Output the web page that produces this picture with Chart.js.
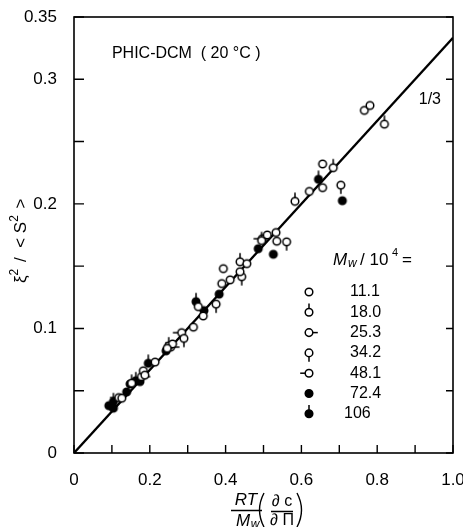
<!DOCTYPE html>
<html>
<head>
<meta charset="utf-8">
<script src="https://cdn.jsdelivr.net/npm/chart.js@4"></script>
<style>
html, body { margin: 0; padding: 0; background: #fff; }
</style>
</head>
<body>
<canvas id="chart" width="463" height="527"></canvas>
<script>
// Series labels (Mw / 10^4) and their points [x, y]
const seriesLabels = ['11.1', '18.0', '25.3', '34.2', '48.1', '72.4', '106'];

const pts111 = [[0.766, 0.275], [0.781, 0.279], [0.656, 0.232], [0.656, 0.213], [0.621, 0.210],
    [0.533, 0.177], [0.535, 0.170], [0.510, 0.175], [0.456, 0.152], [0.394, 0.148],
    [0.438, 0.1455], [0.412, 0.139], [0.390, 0.136], [0.328, 0.1175], [0.341, 0.110],
    [0.315, 0.101], [0.260, 0.0875], [0.246, 0.084], [0.214, 0.073], [0.183, 0.066],
    [0.187, 0.0625], [0.126, 0.044]];
const pts180 = [[0.819, 0.264], [0.684, 0.229], [0.583, 0.202], [0.438, 0.1535], [0.495, 0.1705],
    [0.152, 0.056], [0.250, 0.086]];
const pts253 = [[0.178, 0.0613], [0.255, 0.085]];
const pts342 = [[0.704, 0.215], [0.561, 0.1695], [0.4425, 0.1415], [0.375, 0.1195], [0.290, 0.092]];
const pts481 = [[0.284, 0.0966], [0.497, 0.172], [0.118, 0.0445]];
const pts724 = [[0.708, 0.2025], [0.526, 0.1595], [0.486, 0.164], [0.383, 0.1275], [0.343, 0.1143],
    [0.174, 0.0573], [0.139, 0.049], [0.0995, 0.0377], [0.148, 0.0554], [0.092, 0.038], [0.104, 0.036]];
const pts106 = [[0.645, 0.2197], [0.322, 0.1215], [0.196, 0.072], [0.104, 0.0412], [0.243, 0.082],
    [0.163, 0.058]];
const seriesPoints = [pts111, pts180, pts253, pts342, pts481, pts724, pts106];

// Fitted line, slope 1/3
const fitLine = [[0, 0], [1.0, 1 / 3]];

// Tick labels
const xTickLabels = ['0', '0.2', '0.4', '0.6', '0.8', '1.0'];
const yTickLabels = ['0', '0.1', '0.2', '0.3', '0.35'];

const FONT = '"Liberation Sans", Arial, Helvetica, sans-serif';
const markerKinds = ['open', 'up', 'right', 'down', 'left', 'filled', 'filledUp'];

// Draw one marker (circle with optional stem)
function drawMarker(ctx, kind, cx, cy) {
    const r = 3.8, stem = 5;
    ctx.save();
    ctx.strokeStyle = '#000';
    ctx.lineWidth = 1.5;
    ctx.beginPath();
    if (kind === 'up' || kind === 'filledUp') { ctx.moveTo(cx, cy - r); ctx.lineTo(cx, cy - r - stem); }
    if (kind === 'down') { ctx.moveTo(cx, cy + r); ctx.lineTo(cx, cy + r + stem); }
    if (kind === 'right') { ctx.moveTo(cx + r, cy); ctx.lineTo(cx + r + stem, cy); }
    if (kind === 'left') { ctx.moveTo(cx - r, cy); ctx.lineTo(cx - r - stem, cy); }
    ctx.stroke();
    ctx.beginPath();
    ctx.arc(cx, cy, r, 0, Math.PI * 2);
    ctx.fillStyle = (kind === 'filled' || kind === 'filledUp') ? '#000' : '#fff';
    ctx.fill();
    ctx.stroke();
    ctx.restore();
}

// Marker images for the point style
function markerCanvas(kind) {
    const c = document.createElement('canvas');
    c.width = 24; c.height = 24;
    drawMarker(c.getContext('2d'), kind, 12, 12);
    return c;
}

const datasets = seriesPoints.map((pts, i) => ({
    label: seriesLabels[i],
    data: pts.map(p => ({ x: p[0], y: p[1] })),
    pointStyle: markerCanvas(markerKinds[i]),
    pointRadius: 4,
    showLine: false
}));
datasets.push({
    label: 'fit',
    type: 'line',
    data: fitLine.map(p => ({ x: p[0], y: p[1] })),
    borderColor: '#000',
    borderWidth: 2.3,
    pointRadius: 0,
    fill: false
});

// Frame, inward ticks, titles, annotations and legend
const decorPlugin = {
    id: 'decor',
    afterDatasetsDraw(chart) {
        const ctx = chart.ctx;
        const a = chart.chartArea;
        const xs = chart.scales.x, ys = chart.scales.y;
        ctx.save();
        ctx.strokeStyle = '#000';
        ctx.lineWidth = 1.6;
        ctx.strokeRect(a.left, a.top, a.right - a.left, a.bottom - a.top);

        ctx.lineWidth = 1.4;
        ctx.beginPath();
        ys.ticks.forEach(t => {
            const py = ys.getPixelForValue(t.value);
            ctx.moveTo(a.left, py); ctx.lineTo(a.left + 10, py);
            ctx.moveTo(a.right, py); ctx.lineTo(a.right - 7, py);
        });
        xs.ticks.forEach(t => {
            const px = xs.getPixelForValue(t.value);
            ctx.moveTo(px, a.bottom); ctx.lineTo(px, a.bottom - 8);
        });
        ctx.stroke();

        ctx.fillStyle = '#000';
        ctx.textBaseline = 'middle';
        ctx.textAlign = 'left';
        ctx.font = '16px ' + FONT;
        ctx.fillText('PHIC-DCM  ( 20 \u00B0C )', xs.getPixelForValue(0.1), ys.getPixelForValue(0.321));
        ctx.textAlign = 'center';
        ctx.fillText('1/3', xs.getPixelForValue(0.939), ys.getPixelForValue(0.2834));

        // y title, drawn piece by piece for the superscripts
        ctx.save();
        ctx.translate(21, 283);
        ctx.rotate(-Math.PI / 2);
        ctx.textAlign = 'left';
        const parts = [['\u03BE', 17, 0], ['2', 12, -6], [' /  < S', 17, 0], ['2', 12, -6], [' >', 17, 0]];
        let cx = 0;
        parts.forEach(p => {
            ctx.font = p[1] + 'px ' + FONT;
            ctx.fillText(p[0], cx, p[2]);
            cx += ctx.measureText(p[0]).width + (p[1] === 12 ? 2 : 0);
        });
        ctx.restore();

        // x title: RT/Mw (dc/dPi)
        ctx.textAlign = 'center';
        ctx.font = 'italic 17px ' + FONT;
        ctx.fillText('RT', 246, 500);
        ctx.fillText('M', 243, 521);
        ctx.font = 'italic 12px ' + FONT;
        ctx.fillText('w', 255, 525);
        ctx.lineWidth = 1.4;
        ctx.beginPath();
        ctx.moveTo(231, 510.5); ctx.lineTo(262, 510.5);
        ctx.moveTo(271, 511.5); ctx.lineTo(293, 511.5);
        // parentheses
        ctx.moveTo(264, 493); ctx.quadraticCurveTo(255, 510, 264, 527);
        ctx.moveTo(297, 493); ctx.quadraticCurveTo(306, 510, 297, 527);
        ctx.stroke();
        ctx.font = '16px ' + FONT;
        ctx.fillText('\u2202 c', 282, 502);
        ctx.fillText('\u2202 \u03A0', 282, 521);

        // legend
        ctx.textAlign = 'left';
        ctx.font = 'italic 17px ' + FONT;
        ctx.fillText('M', 333, 260);
        ctx.font = 'italic 12px ' + FONT;
        ctx.fillText('w', 348, 264);
        ctx.font = '17px ' + FONT;
        ctx.fillText('/ 10', 360, 260);
        ctx.font = '11px ' + FONT;
        ctx.fillText('4', 392, 253);
        ctx.font = '17px ' + FONT;
        ctx.fillText('=', 402, 260);

        ctx.font = '16px ' + FONT;
        seriesLabels.forEach((lab, i) => {
            const y = 292 + i * 20.3;
            drawMarker(ctx, markerKinds[i], 309, y);
            ctx.fillStyle = '#000';
            ctx.fillText(lab, lab.indexOf('.') < 0 ? 344 : 350, y);
        });
        ctx.restore();
    }
};

new Chart(document.getElementById('chart'), {
    type: 'scatter',
    data: { datasets: datasets },
    options: {
        responsive: false,
        devicePixelRatio: 1,
        animation: false,
        layout: { padding: { left: 0, right: 10, top: 17, bottom: 0 } },
        plugins: { legend: { display: false }, tooltip: { enabled: false } },
        scales: {
            x: {
                type: 'linear', min: 0, max: 1,
                grid: { display: false }, border: { display: false },
                ticks: {
                    stepSize: 0.1, padding: 9, color: '#000', maxRotation: 0, autoSkip: false,
                    font: { family: FONT, size: 17 },
                    callback: v => {
                        const k = Math.round(v * 10);
                        return k % 2 === 0 ? xTickLabels[k / 2] : '';
                    }
                },
                afterFit: s => { s.height = 74; s.paddingLeft = 0; s.paddingRight = 0; }
            },
            y: {
                type: 'linear', min: 0, max: 0.35,
                grid: { display: false }, border: { display: false },
                ticks: {
                    stepSize: 0.05, padding: 9, color: '#000', autoSkip: false,
                    font: { family: FONT, size: 17 },
                    callback: v => {
                        const k = Math.round(v * 100);
                        const idx = [0, 10, 20, 30, 35].indexOf(k);
                        return idx >= 0 ? yTickLabels[idx] : '';
                    }
                },
                afterFit: s => { s.width = 74; s.paddingTop = 0; s.paddingBottom = 0; }
            }
        }
    },
    plugins: [decorPlugin]
});
</script>
</body>
</html>
